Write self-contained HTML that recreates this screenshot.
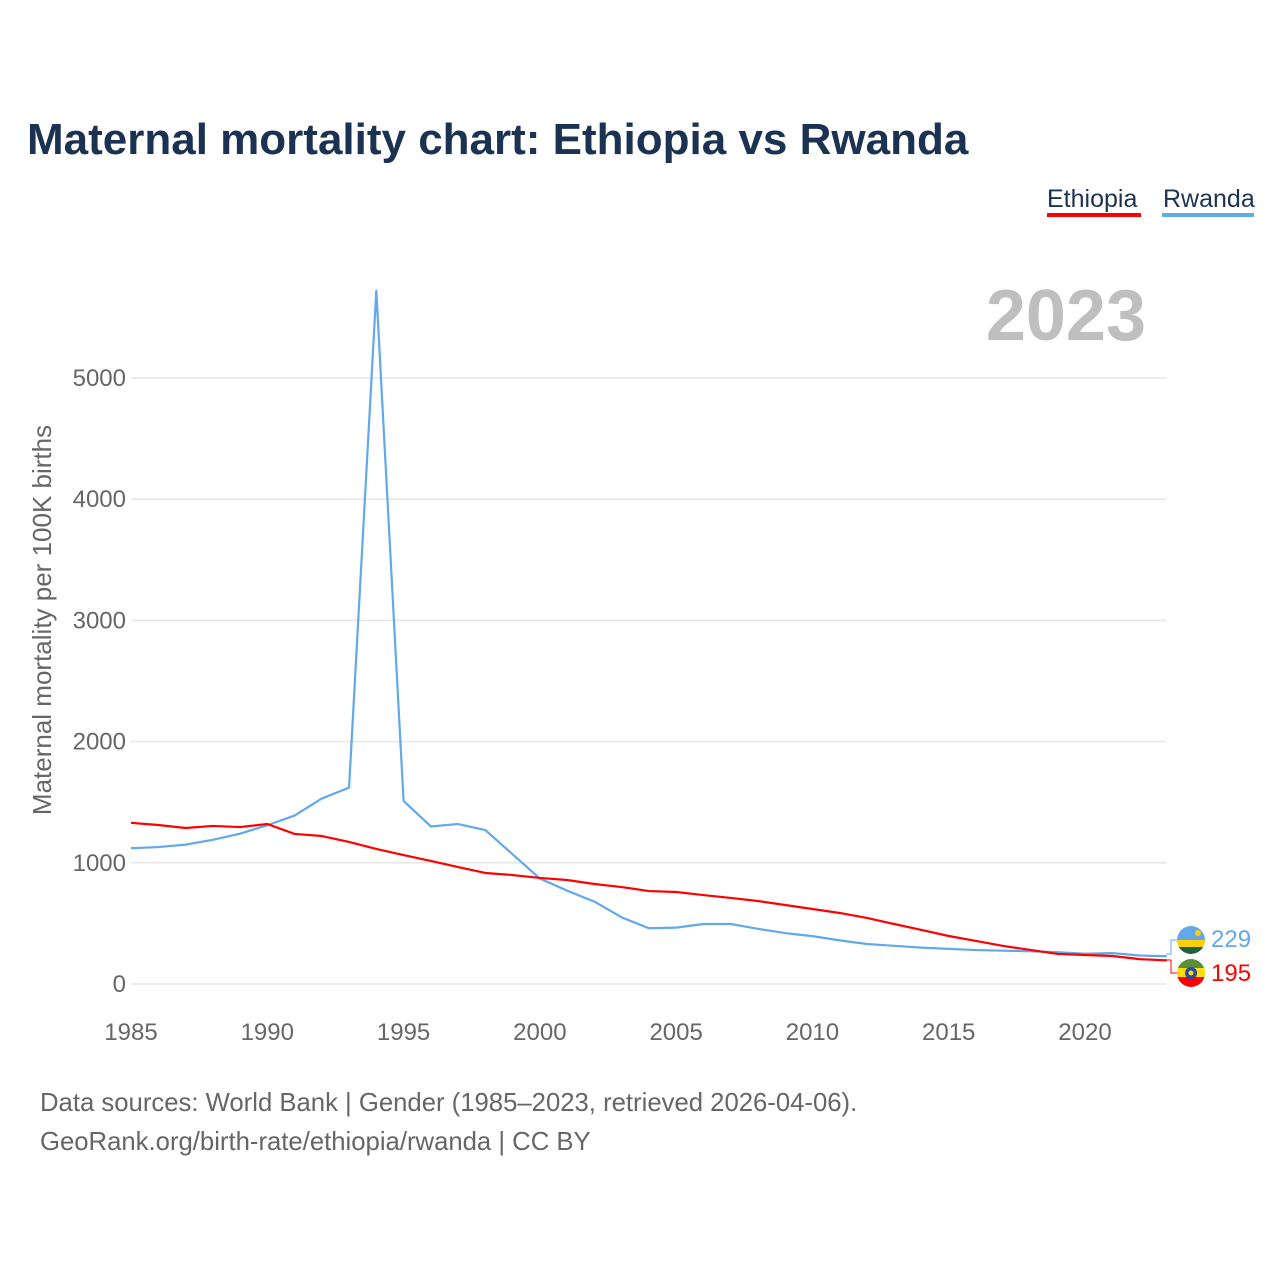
<!DOCTYPE html>
<html><head><meta charset="utf-8"><style>
body{margin:0;background:#fff;font-family:"Liberation Sans",sans-serif}
</style></head><body>
<svg width="1280" height="1280" viewBox="0 0 1280 1280" font-family="Liberation Sans, sans-serif">
<rect width="1280" height="1280" fill="#fff"/>
<text x="27" y="154" font-size="44" font-weight="bold" fill="#1b3252">Maternal mortality chart: Ethiopia vs Rwanda</text>
<g><text x="1047" y="207" font-size="25" fill="#1b3252">Ethiopia</text><rect x="1047" y="213" width="94" height="4" fill="#ff0000"/></g>
<g><text x="1163" y="207" font-size="25" fill="#1b3252">Rwanda</text><rect x="1162" y="213" width="92" height="4" fill="#62a8ea"/></g>
<text x="1146" y="340" font-size="72" font-weight="bold" fill="#bfbfbf" text-anchor="end">2023</text>
<text transform="translate(51,620) rotate(-90)" font-size="26" fill="#666" text-anchor="middle">Maternal mortality per 100K births</text>
<g id="grid"></g><g id="lines"></g>
<g>
<path d="M1166 954 H1171 V940 H1177" stroke="#62a8ea" fill="none"/>
<path d="M1166 960 H1171 V973 H1177" stroke="#ff0000" fill="none"/>
<g><clipPath id="c1"><circle cx="1191" cy="940" r="14"/></clipPath><g clip-path="url(#c1)"><rect x="1177" y="926" width="28" height="16" fill="#62a8ea"/><rect x="1177" y="940" width="28" height="8" fill="#fad201"/><rect x="1177" y="947" width="28" height="8" fill="#20603d"/></g><circle cx="1198" cy="933" r="3" fill="#fad201"/></g>
<g><clipPath id="c2"><circle cx="1191" cy="973" r="14"/></clipPath><g clip-path="url(#c2)"><rect x="1177" y="959" width="28" height="10" fill="#5a8f3a"/><rect x="1177" y="968" width="28" height="10" fill="#fcdd09"/><rect x="1177" y="977" width="28" height="10" fill="#ff0000"/></g><circle cx="1191" cy="973" r="6" fill="#2a4aa0"/><circle cx="1191" cy="973" r="2.5" fill="#fcdd09"/></g>
<text x="1211" y="947" font-size="24" fill="#62a8ea">229</text>
<text x="1211" y="981" font-size="24" fill="#ff0000">195</text>
</g>
<text x="40" y="1111" font-size="25.7" fill="#666">Data sources: World Bank | Gender (1985–2023, retrieved 2026-04-06).</text>
<text x="40" y="1150" font-size="25.7" fill="#666">GeoRank.org/birth-rate/ethiopia/rwanda | CC BY</text>
</svg>
<script>
const years=[1985,1986,1987,1988,1989,1990,1991,1992,1993,1994,1995,1996,1997,1998,1999,2000,2001,2002,2003,2004,2005,2006,2007,2008,2009,2010,2011,2012,2013,2014,2015,2016,2017,2018,2019,2020,2021,2022,2023];
const ethiopia=[1330,1312,1287,1304,1295,1320,1238,1221,1172,1114,1064,1015,965,916,899,875,858,825,800,767,759,734,710,685,652,619,586,545,495,446,396,355,314,281,248,239,231,205,195];
const rwanda=[1120,1130,1150,1190,1240,1310,1390,1530,1620,5720,1510,1300,1320,1270,1070,870,770,680,550,460,465,495,495,455,420,395,360,330,315,300,290,280,275,270,262,250,255,235,229];
const yTicks=[0,1000,2000,3000,4000,5000];
const xTicks=[1985,1990,1995,2000,2005,2010,2015,2020];
const NS="http://www.w3.org/2000/svg";
const x=v=>131+(v-1985)*(1085-131)/35;
const y=v=>984-v*0.1212;
const grid=document.getElementById('grid'),lines=document.getElementById('lines');
yTicks.forEach(t=>{
 const l=document.createElementNS(NS,'line');
 l.setAttribute('x1',131);l.setAttribute('x2',1166);l.setAttribute('y1',y(t));l.setAttribute('y2',y(t));
 l.setAttribute('stroke','#e6e6e6');l.setAttribute('stroke-width','1.5');
 
 
 grid.appendChild(l);
 const tx=document.createElementNS(NS,'text');
 tx.setAttribute('x',126);tx.setAttribute('y',y(t)+8);tx.setAttribute('text-anchor','end');
 tx.setAttribute('font-size','24');tx.setAttribute('fill','#666');tx.textContent=t;
 
 
 grid.appendChild(tx);
});
xTicks.forEach(t=>{
 const tx=document.createElementNS(NS,'text');
 tx.setAttribute('x',x(t));tx.setAttribute('y',1040);tx.setAttribute('text-anchor','middle');
 tx.setAttribute('font-size','24');tx.setAttribute('fill','#666');tx.textContent=t;
 
 
 grid.appendChild(tx);
});
function line(vals,color,name){
 const p=document.createElementNS(NS,'polyline');
 p.setAttribute('points',vals.map((v,i)=>x(years[i])+','+y(v)).join(' '));
 p.setAttribute('fill','none');p.setAttribute('stroke',color);p.setAttribute('stroke-width','2.2');
 p.setAttribute('stroke-linejoin','round');
 
 
 lines.appendChild(p);
}
line(rwanda,'#62a8ea','rwanda-line');
line(ethiopia,'#ff0000','ethiopia-line');
</script>
</body></html>
